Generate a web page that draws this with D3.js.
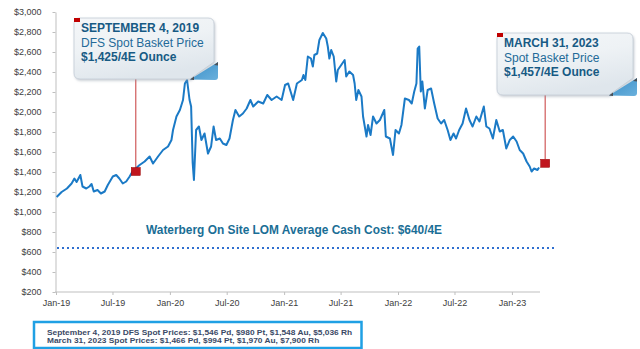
<!DOCTYPE html>
<html>
<head>
<meta charset="utf-8">
<script src="https://cdn.jsdelivr.net/npm/d3@7"></script>
<style>
  body { margin: 0; background: #fff; }
  svg { display: block; font-family: "Liberation Sans", Arial, sans-serif; }
</style>
</head>
<body>
<div id="theChart"></div>
<script>
// basket price
const dates = [
  "2019-01-03","2019-01-19","2019-02-05","2019-02-20","2019-03-01","2019-03-08","2019-03-20","2019-03-27",
  "2019-04-08","2019-04-18","2019-04-25","2019-05-02","2019-05-14","2019-05-25","2019-06-06","2019-06-16",
  "2019-07-02","2019-07-13","2019-07-23","2019-08-03","2019-08-14","2019-08-25","2019-09-04","2019-09-26",
  "2019-10-12","2019-10-28","2019-11-08","2019-11-24","2019-12-10","2019-12-26","2020-01-06","2020-01-11",
  "2020-01-22","2020-02-02","2020-02-12","2020-02-18","2020-02-25","2020-03-04","2020-03-09","2020-03-14",
  "2020-03-18","2020-03-25","2020-04-03","2020-04-11","2020-04-21","2020-05-02","2020-05-12","2020-05-20",
  "2020-05-28","2020-06-09","2020-06-19","2020-06-30","2020-07-10","2020-07-21","2020-07-29","2020-08-10",
  "2020-08-22","2020-09-03","2020-09-15","2020-09-24","2020-10-10","2020-10-26","2020-11-08","2020-11-22",
  "2020-12-08","2020-12-24","2021-01-04","2021-01-14","2021-01-30","2021-02-11","2021-02-27","2021-03-04",
  "2021-03-10","2021-03-18","2021-03-28","2021-04-03","2021-04-08","2021-04-17","2021-04-24","2021-05-05",
  "2021-05-16","2021-05-21","2021-05-26","2021-06-01","2021-06-09","2021-06-17","2021-06-22","2021-07-03",
  "2021-07-14","2021-07-19","2021-07-29","2021-08-10","2021-08-15","2021-08-20","2021-08-27","2021-09-06",
  "2021-09-11","2021-09-22","2021-09-27","2021-10-05","2021-10-13","2021-10-24","2021-11-04","2021-11-18",
  "2021-11-23","2021-12-06","2021-12-16","2021-12-24","2022-01-04","2022-01-12","2022-01-23","2022-02-05",
  "2022-02-14","2022-02-22","2022-03-01","2022-03-05","2022-03-10","2022-03-15","2022-03-20","2022-03-28",
  "2022-04-06","2022-04-17","2022-04-27","2022-05-08","2022-05-19","2022-05-29","2022-06-09","2022-06-18",
  "2022-06-28","2022-07-06","2022-07-16","2022-07-27","2022-08-07","2022-08-18","2022-08-28","2022-09-09",
  "2022-09-19","2022-10-03","2022-10-11","2022-10-21","2022-11-01","2022-11-12","2022-11-23","2022-12-03",
  "2022-12-14","2022-12-25","2023-01-05","2023-01-16","2023-01-26","2023-02-06","2023-02-17","2023-02-27",
  "2023-03-05","2023-03-13","2023-03-24","2023-03-29"
]
const prices = [
  1150,1200,1235,1285,1335,1300,1370,1255,
  1235,1255,1280,1205,1220,1185,1205,1270,
  1355,1370,1335,1285,1305,1355,1410,1470,
  1505,1555,1485,1555,1620,1655,1720,1820,
  1955,2020,2120,2285,2320,2120,2055,1490,
  1320,1820,1855,1720,1785,1585,1655,1855,
  1720,1735,1685,1670,1735,1920,2020,1955,
  1985,2035,2120,2055,2105,2085,2170,2120,
  2155,2120,2270,2285,2120,2285,2320,2370,
  2320,2555,2535,2455,2570,2585,2720,2790,
  2735,2655,2535,2620,2555,2305,2420,2470,
  2520,2355,2405,2370,2285,2120,2220,2155,
  1955,1755,1870,1770,1955,1885,1920,2020,
  1755,1735,1570,1820,1785,1870,2135,2120,
  2085,2205,2285,2635,2655,2205,2305,2035,
  2220,2235,2085,1935,1885,1920,1820,1720,
  1785,1735,1820,1885,2035,1920,1855,1955,
  1905,2055,1855,1835,1735,1920,1805,1820,
  1635,1720,1755,1705,1620,1585,1505,1455,
  1405,1435,1420,1445
]

const yTicks = [200,400,600,800,1000,1200,1400,1600,1800,2000,2200,2400,2600,2800,3000]
const xTicks = ["2019-01-01","2019-07-01","2020-01-01","2020-07-01","2021-01-01","2021-07-01","2022-01-01","2022-07-01","2023-01-01"]

const cashCost = 640
const cashCostLabel = "Waterberg On Site LOM Average Cash Cost: $640/4E"

const callouts = [
  { date: "2019-09-04", value: 1425, dx: 3, dy: 2,
    box: { x: 74, y: 18, w: 140, h: 61 },
    lines: ["SEPTEMBER 4, 2019", "DFS Spot Basket Price", "$1,425/4E Ounce"] },
  { date: "2023-03-31", value: 1457, dx: 5.5, dy: -3,
    box: { x: 497, y: 33, w: 136, h: 62 },
    lines: ["MARCH 31, 2023", "Spot Basket Price", "$1,457/4E Ounce"] }
]

const footnotes = [
  "September 4, 2019 DFS Spot Prices: $1,546 Pd, $980 Pt, $1,548 Au, $5,036 Rh",
  "March 31, 2023 Spot Prices: $1,466 Pd, $994 Pt, $1,970 Au, $7,900 Rh"
]

const w = 640
const h = 349
const parse = d3.timeParse("%Y-%m-%d")

const series = dates.map((d, i) => ({ date: parse(d), value: prices[i] }))

const svg = d3.select("#theChart").append("svg")
  .attr("width", w)
  .attr("height", h)

const defs = svg.append("defs")
const boxGrad = defs.append("linearGradient").attr("id", "boxGrad")
  .attr("x1", "0").attr("y1", "0").attr("x2", "0.4").attr("y2", "1")
boxGrad.append("stop").attr("offset", "0").attr("stop-color", "#f4f6f8")
boxGrad.append("stop").attr("offset", "0.5").attr("stop-color", "#eef2f5")
boxGrad.append("stop").attr("offset", "1").attr("stop-color", "#dfe6ec")
const foldGrad = defs.append("linearGradient").attr("id", "foldGrad")
  .attr("x1", "0").attr("y1", "0").attr("x2", "1").attr("y2", "1")
foldGrad.append("stop").attr("offset", "0").attr("stop-color", "#3a8fc8")
foldGrad.append("stop").attr("offset", "1").attr("stop-color", "#6ab0dc")
const shadow = defs.append("filter").attr("id", "shadow")
  .attr("x", "-10%").attr("y", "-10%").attr("width", "130%").attr("height", "140%")
shadow.append("feDropShadow").attr("dx", 1).attr("dy", 1.5).attr("stdDeviation", 1.2)
  .attr("flood-color", "#8a96a3").attr("flood-opacity", 0.45)

const x = d3.scaleTime()
  .domain([parse("2019-01-01"), parse("2023-04-01")])
  .range([56, 540])

const y = d3.scaleLinear()
  .domain([200, 3000])
  .range([292, 12])

// axes
const xAxis = svg.append("g")
  .attr("transform", "translate(0,292)")
  .call(d3.axisBottom(x)
    .tickValues(xTicks.map(parse))
    .tickFormat(d3.timeFormat("%b-%y"))
    .tickSize(3)
    .tickSizeOuter(0)
    .tickPadding(5))
xAxis.select(".domain").attr("stroke", "#bfbfbf").attr("d", "M55,0H540")

const yAxis = svg.append("g")
  .attr("transform", "translate(55.5,0)")
  .call(d3.axisLeft(y)
    .tickValues(yTicks)
    .tickFormat(d => "$" + d3.format(",")(d))
    .tickSize(3)
    .tickSizeOuter(0)
    .tickPadding(11))
yAxis.select(".domain").attr("stroke", "#bfbfbf")

svg.selectAll(".tick line").attr("stroke", "#bfbfbf")
svg.selectAll(".tick text")
  .attr("fill", "#404040")
  .style("font-size", "9px")
  .style("font-family", "\"Liberation Sans\", Arial, sans-serif")

// cash cost line
svg.append("line")
  .attr("x1", 57)
  .attr("x2", 556)
  .attr("y1", y(cashCost))
  .attr("y2", y(cashCost))
  .attr("stroke", "#2f6fd0")
  .attr("stroke-width", 2)
  .attr("stroke-dasharray", "2,3")

svg.append("text")
  .attr("x", 146)
  .attr("y", y(cashCost) - 14)
  .attr("fill", "#1a6e96")
  .style("font-size", "11.9px")
  .style("font-weight", "bold")
  .text(cashCostLabel)

// price line
svg.append("path")
  .datum(series)
  .attr("fill", "none")
  .attr("stroke", "#1b7ac6")
  .attr("stroke-width", 2)
  .attr("stroke-linejoin", "round")
  .attr("d", d3.line().x(d => x(d.date)).y(d => y(d.value)))

// callouts
callouts.forEach(c => {
  const mx = x(parse(c.date)) + c.dx
  const my = y(c.value) + c.dy
  const b = c.box
  const r = 6
  const fw = 24
  const fh = 17

  svg.append("line")
    .attr("x1", mx).attr("x2", mx)
    .attr("y1", b.y + b.h).attr("y2", my - 4)
    .attr("stroke", "#d05a5a")
    .attr("stroke-width", 1.2)

  svg.append("rect")
    .attr("x", mx - 4.5).attr("y", my - 4)
    .attr("width", 9).attr("height", 8)
    .attr("fill", "#c0161e")
    .attr("stroke", "#900")
    .attr("stroke-width", 0.5)

  const g = svg.append("g")
  g.append("path")
    .attr("d", `M${b.x + r},${b.y} H${b.x + b.w - r} Q${b.x + b.w},${b.y} ${b.x + b.w},${b.y + r}
      V${b.y + b.h - fh} L${b.x + b.w - fw},${b.y + b.h} H${b.x + r}
      Q${b.x},${b.y + b.h} ${b.x},${b.y + b.h - r} V${b.y + r} Q${b.x},${b.y} ${b.x + r},${b.y} Z`)
    .attr("fill", "url(#boxGrad)")
    .attr("stroke", "#c3ccd5")
    .attr("stroke-width", 0.8)
    .attr("filter", "url(#shadow)")

  g.append("path")
    .attr("d", `M${b.x + b.w - fw},${b.y + b.h + 0.5} L${b.x + b.w + 4},${b.y + b.h - fh}
      V${b.y + b.h - 2} Q${b.x + b.w + 4},${b.y + b.h + 1} ${b.x + b.w + 1},${b.y + b.h + 1} Z`)
    .attr("fill", "url(#foldGrad)")

  g.append("path")
    .attr("d", `M${b.x + b.w - fw},${b.y + b.h + 0.5} l4,-3 l0,3.5 Z
      M${b.x + b.w + 4},${b.y + b.h - fh} l-4,3 l4,0.5 Z`)
    .attr("fill", "#4a4f55")

  g.append("rect")
    .attr("x", b.x).attr("y", b.y)
    .attr("width", 6).attr("height", 4)
    .attr("fill", "#c00000")

  g.selectAll("text")
    .data(c.lines)
    .enter()
    .append("text")
    .attr("x", b.x + 7)
    .attr("y", (d, i) => b.y + 14 + i * 14.5)
    .attr("fill", (d, i) => i === 1 ? "#236a98" : "#175a84")
    .style("font-size", "12px")
    .style("font-weight", (d, i) => i === 1 ? "normal" : "bold")
    .text(d => d)
})

// footnote box
svg.append("rect")
  .attr("x", 34)
  .attr("y", 322)
  .attr("width", 327.5)
  .attr("height", 26)
  .attr("fill", "#fff")
  .attr("stroke", "#1fa0e4")
  .attr("stroke-width", 2.5)

svg.selectAll(".foot")
  .data(footnotes)
  .enter()
  .append("text")
  .attr("class", "foot")
  .attr("x", 47)
  .attr("y", (d, i) => 334.6 + i * 8.4)
  .attr("fill", "#3b4a66")
  .style("font-size", "7.6px")
  .style("font-weight", "bold")
  .text(d => d)
  .each(function () {
    // the original is a slightly wide face; stretch to match
    const len = this.getComputedTextLength()
    d3.select(this).attr("textLength", len * 1.1).attr("lengthAdjust", "spacingAndGlyphs")
  })
</script>
</body>
</html>
